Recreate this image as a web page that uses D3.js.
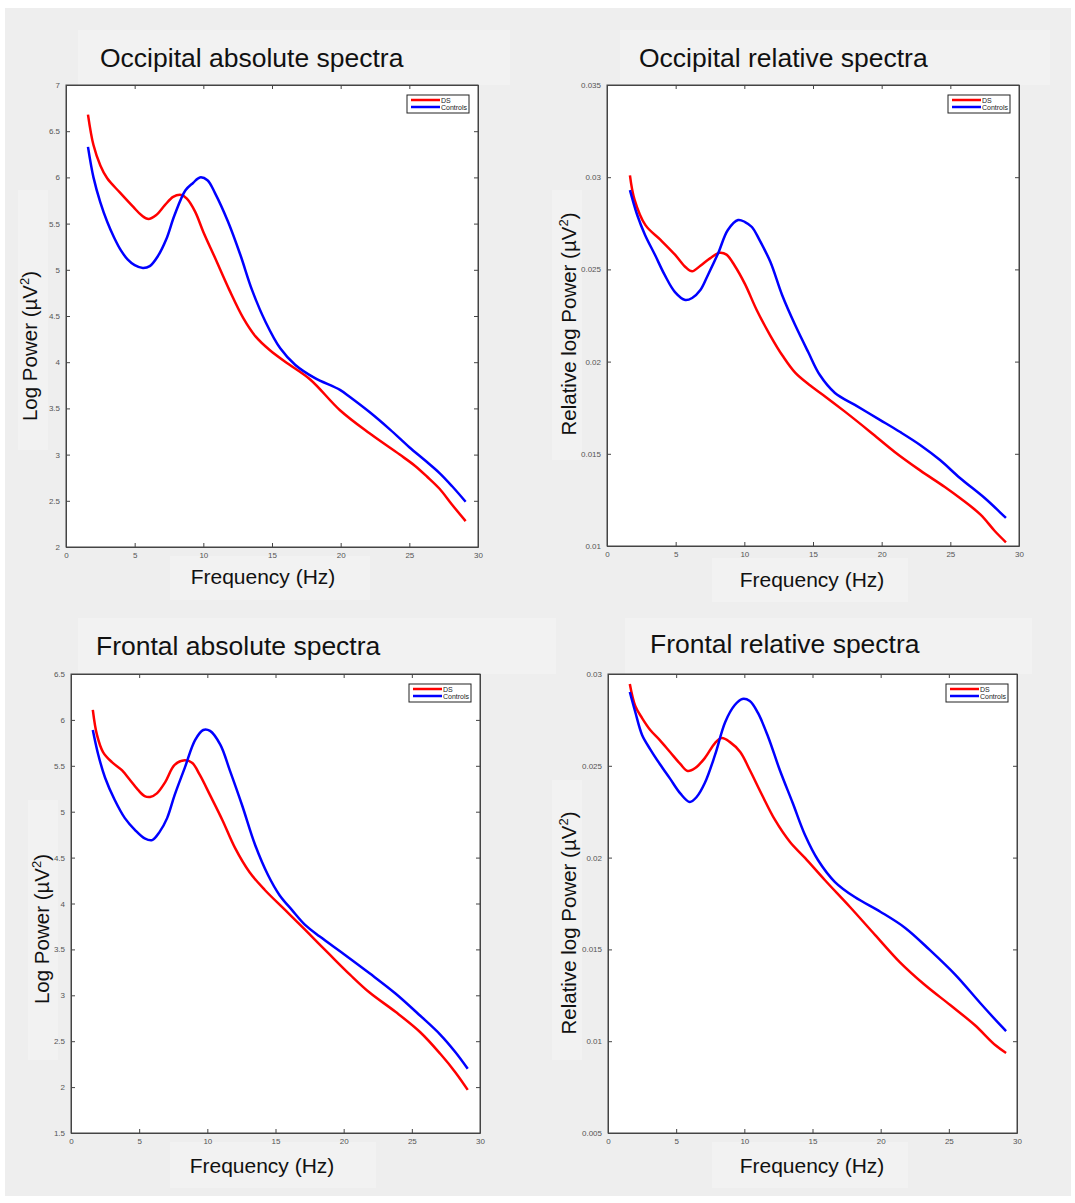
<!DOCTYPE html>
<html>
<head>
<meta charset="utf-8">
<script src="https://cdn.jsdelivr.net/npm/d3@7"></script>
<style>
  body { margin: 0; background: #fff; }
  svg { display: block; font-family: "Liberation Sans", Arial, sans-serif; }
</style>
</head>
<body>
<svg id="chart" width="1075" height="1203"></svg>
<script>
// ---- data ----
// occipital absolute
const freqOccAbsDS = [1.6, 2.0, 2.5, 3.0, 3.9, 4.9, 5.5, 6.0, 6.55, 7.2, 7.8, 8.4, 8.8, 9.4, 10.0, 10.85, 11.9, 12.9, 13.8, 14.85, 16.2, 17.8, 19.95, 22.1, 24.3, 25.4, 26.3, 27.2, 28.1, 29.1];
const powOccAbsDS  = [6.68, 6.35, 6.13, 5.99, 5.84, 5.68, 5.59, 5.55, 5.59, 5.70, 5.79, 5.81, 5.77, 5.63, 5.41, 5.13, 4.78, 4.48, 4.28, 4.13, 3.98, 3.81, 3.48, 3.23, 3.00, 2.88, 2.76, 2.63, 2.46, 2.28];
const freqOccAbsCtl = [1.6, 2.0, 2.5, 3.0, 3.5, 4.0, 4.5, 5.0, 5.6, 6.1, 6.7, 7.3, 7.9, 8.7, 9.25, 9.75, 10.3, 10.85, 11.8, 12.7, 13.55, 14.55, 15.6, 16.7, 18.1, 19.95, 20.7, 22.1, 23.6, 25.0, 26.2, 27.2, 28.1, 29.1];
const powOccAbsCtl  = [6.33, 6.00, 5.73, 5.52, 5.35, 5.21, 5.11, 5.05, 5.02, 5.04, 5.15, 5.33, 5.59, 5.86, 5.94, 6.00, 5.97, 5.83, 5.52, 5.16, 4.78, 4.43, 4.15, 3.97, 3.83, 3.70, 3.62, 3.46, 3.27, 3.08, 2.93, 2.80, 2.66, 2.49];

// occipital relative
const freqOccRelDS = [1.67, 2.0, 2.8, 3.9, 4.95, 5.75, 6.2, 6.8, 7.5, 8.2, 8.7, 9.3, 10.05, 10.9, 11.9, 12.8, 13.7, 14.8, 15.9, 17.3, 19.15, 20.95, 22.8, 24.6, 25.7, 27.2, 28.25, 29.05];
const powOccRelDS  = [0.0301, 0.0288, 0.0274, 0.0266, 0.0258, 0.0251, 0.0249, 0.0252, 0.0256, 0.0259, 0.0258, 0.0252, 0.0242, 0.0228, 0.0214, 0.0203, 0.0194, 0.0187, 0.0181, 0.0173, 0.0162, 0.0151, 0.0141, 0.0132, 0.0126, 0.0117, 0.0108, 0.0102];
const freqOccRelCtl = [1.67, 2.2, 2.77, 3.5, 4.2, 4.95, 5.7, 6.2, 6.8, 7.35, 8.1, 8.8, 9.55, 10.05, 10.55, 11.1, 11.9, 12.75, 13.7, 14.65, 15.5, 16.6, 18.05, 19.9, 21.35, 22.8, 24.25, 25.7, 27.5, 28.6, 29.05];
const powOccRelCtl  = [0.0293, 0.02795, 0.02687, 0.02578, 0.0247, 0.02377, 0.02334, 0.02345, 0.02388, 0.0247, 0.02589, 0.02714, 0.02768, 0.02757, 0.0273, 0.0266, 0.0254, 0.02361, 0.02198, 0.02052, 0.01927, 0.0183, 0.01765, 0.01683, 0.01618, 0.01548, 0.01466, 0.01369, 0.0126, 0.01184, 0.01152];

// frontal absolute
const freqFrAbsDS = [1.6, 1.9, 2.35, 3.0, 3.75, 4.3, 4.9, 5.4, 5.8, 6.3, 6.9, 7.6, 8.35, 8.9, 9.45, 10.2, 11.1, 12.05, 13.1, 14.2, 15.7, 17.2, 19.0, 20.5, 21.9, 23.8, 25.6, 27.1, 28.2, 29.1];
const powFrAbsDS  = [6.11, 5.84, 5.65, 5.54, 5.45, 5.35, 5.24, 5.17, 5.16, 5.20, 5.32, 5.51, 5.56, 5.53, 5.40, 5.18, 4.91, 4.60, 4.34, 4.15, 3.93, 3.71, 3.44, 3.22, 3.03, 2.82, 2.60, 2.36, 2.16, 1.97];
const freqFrAbsCtl = [1.6, 2.0, 2.5, 3.2, 3.95, 4.7, 5.4, 5.95, 6.5, 7.05, 7.6, 8.35, 9.1, 9.7, 10.2, 10.95, 11.65, 12.55, 13.5, 14.45, 15.3, 16.2, 17.15, 18.25, 20.1, 21.9, 23.8, 25.6, 27.1, 28.2, 29.1];
const powFrAbsCtl  = [5.89, 5.62, 5.37, 5.13, 4.93, 4.80, 4.71, 4.69, 4.78, 4.93, 5.18, 5.48, 5.78, 5.89, 5.88, 5.73, 5.45, 5.07, 4.64, 4.31, 4.09, 3.93, 3.77, 3.64, 3.44, 3.24, 3.02, 2.78, 2.57, 2.38, 2.20];

// frontal relative
const freqFrRelDS = [1.6, 2.0, 2.5, 3.1, 3.8, 4.55, 5.3, 5.85, 6.4, 7.1, 7.85, 8.35, 8.95, 9.7, 10.4, 11.3, 12.25, 13.35, 14.45, 15.9, 17.75, 19.6, 21.4, 23.25, 25.1, 26.9, 28.4, 29.2];
const powFrRelDS  = [0.02946, 0.02826, 0.0276, 0.02695, 0.0264, 0.02575, 0.0251, 0.02472, 0.02488, 0.02542, 0.02624, 0.02651, 0.02629, 0.02575, 0.02477, 0.02341, 0.02205, 0.02085, 0.01998, 0.01878, 0.01731, 0.01578, 0.01431, 0.01306, 0.01197, 0.01088, 0.00979, 0.00936];
const freqFrRelCtl = [1.6, 2.0, 2.5, 3.1, 3.8, 4.55, 5.3, 6.0, 6.5, 7.1, 7.85, 8.6, 9.3, 9.85, 10.4, 11.0, 11.75, 12.6, 13.55, 14.45, 15.4, 16.65, 18.1, 20.0, 21.8, 23.6, 25.5, 27.3, 28.75, 29.2];
const powFrRelCtl  = [0.02902, 0.02793, 0.02668, 0.0259, 0.0251, 0.0243, 0.0235, 0.02303, 0.0233, 0.02406, 0.02559, 0.02739, 0.02831, 0.02864, 0.02853, 0.02788, 0.02657, 0.02477, 0.02297, 0.02123, 0.01987, 0.01867, 0.01785, 0.01704, 0.01617, 0.01497, 0.0136, 0.01208, 0.0109, 0.01055];

// ticks
const xTicks = [0, 5, 10, 15, 20, 25, 30];
const yTicksOccAbs = [2, 2.5, 3, 3.5, 4, 4.5, 5, 5.5, 6, 6.5, 7];
const yTicksOccRel = [0.01, 0.015, 0.02, 0.025, 0.03, 0.035];
const yTicksFrAbs = [1.5, 2, 2.5, 3, 3.5, 4, 4.5, 5, 5.5, 6, 6.5];
const yTicksFrRel = [0.005, 0.01, 0.015, 0.02, 0.025, 0.03];

const titles = ["Occipital absolute spectra", "Occipital relative spectra", "Frontal absolute spectra", "Frontal relative spectra"];
const seriesNames = ["DS", "Controls"];
const seriesColors = ["#ff0000", "#0000ff"];

const zip = (f, v) => f.map((d, i) => [d, v[i]]);

// layout of the four panels (pixel boxes, label positions)
const panels = [
  { title: titles[0], box: [66, 478, 85, 547], yTicks: yTicksOccAbs, ylab: "Log Power (\u00b5V",
    series: [zip(freqOccAbsDS, powOccAbsDS), zip(freqOccAbsCtl, powOccAbsCtl)],
    titlePos: [100, 67], ylabPos: [37, 346], xlabPos: [263, 584],
    bgBoxes: [[78, 30, 432, 55], [170, 556, 200, 44], [18, 190, 30, 260]] },
  { title: titles[1], box: [607, 1019, 85, 546], yTicks: yTicksOccRel, ylab: "Relative log Power (\u00b5V",
    series: [zip(freqOccRelDS, powOccRelDS), zip(freqOccRelCtl, powOccRelCtl)],
    titlePos: [639, 67], ylabPos: [576, 324], xlabPos: [812, 587],
    bgBoxes: [[620, 30, 430, 55], [712, 558, 196, 44], [552, 190, 30, 270]] },
  { title: titles[2], box: [71, 480, 674, 1133], yTicks: yTicksFrAbs, ylab: "Log Power (\u00b5V",
    series: [zip(freqFrAbsDS, powFrAbsDS), zip(freqFrAbsCtl, powFrAbsCtl)],
    titlePos: [96, 655], ylabPos: [49, 929], xlabPos: [262, 1173],
    bgBoxes: [[78, 618, 478, 56], [170, 1142, 206, 46], [28, 800, 30, 260]] },
  { title: titles[3], box: [608, 1017, 674, 1133], yTicks: yTicksFrRel, ylab: "Relative log Power (\u00b5V",
    series: [zip(freqFrRelDS, powFrRelDS), zip(freqFrRelCtl, powFrRelCtl)],
    titlePos: [650, 653], ylabPos: [576, 923], xlabPos: [812, 1173],
    bgBoxes: [[625, 618, 407, 56], [712, 1142, 196, 46], [552, 780, 30, 280]] }
];

const svg = d3.select("#chart");

// figure background
svg.append("rect").attr("x", 5).attr("y", 8).attr("width", 1066).attr("height", 1188).attr("fill", "#eeeeee");

panels.forEach(p => {
  const [x0, x1, y0, y1] = p.box;
  const g = svg.append("g");

  // faint label backgrounds
  p.bgBoxes.forEach(b => {
    g.append("rect").attr("x", b[0]).attr("y", b[1]).attr("width", b[2]).attr("height", b[3]).attr("fill", "#f2f2f2");
  });

  const x = d3.scaleLinear().domain([0, 30]).range([x0, x1]);
  const y = d3.scaleLinear().domain(d3.extent(p.yTicks)).range([y1, y0]);

  // plot area
  g.append("rect").attr("x", x0).attr("y", y0).attr("width", x1 - x0).attr("height", y1 - y0)
    .attr("fill", "#fff");

  // ticks on all four sides, pointing inward
  const fmt = v => String(+v.toFixed(4));
  g.append("g").attr("transform", `translate(0,${y1})`)
    .call(d3.axisBottom(x).tickValues(xTicks).tickSizeInner(-4).tickSizeOuter(0).tickPadding(5).tickFormat(fmt));
  g.append("g").attr("transform", `translate(0,${y0})`)
    .call(d3.axisTop(x).tickValues(xTicks).tickSizeInner(-4).tickSizeOuter(0).tickFormat(""));
  g.append("g").attr("transform", `translate(${x0},0)`)
    .call(d3.axisLeft(y).tickValues(p.yTicks).tickSizeInner(-4).tickSizeOuter(0).tickPadding(6).tickFormat(fmt));
  g.append("g").attr("transform", `translate(${x1},0)`)
    .call(d3.axisRight(y).tickValues(p.yTicks).tickSizeInner(-4).tickSizeOuter(0).tickFormat(""));

  g.selectAll(".domain").attr("stroke", "#444");
  g.selectAll(".tick line").attr("stroke", "#444");
  g.selectAll(".tick text").attr("fill", "#555").style("font-size", "8px");

  // frame
  g.append("rect").attr("x", x0).attr("y", y0).attr("width", x1 - x0).attr("height", y1 - y0)
    .attr("fill", "none").attr("stroke", "#444").attr("stroke-width", 1);

  // curves
  const line = d3.line().x(d => x(d[0])).y(d => y(d[1])).curve(d3.curveCatmullRom);
  p.series.forEach((s, i) => {
    g.append("path").datum(s).attr("d", line)
      .attr("fill", "none").attr("stroke", seriesColors[i]).attr("stroke-width", 2.5)
      .attr("stroke-linejoin", "round");
  });

  // legend
  const lw = 62, lh = 18;
  const lg = g.append("g").attr("transform", `translate(${x1 - 9 - lw},${y0 + 10})`);
  lg.append("rect").attr("width", lw).attr("height", lh).attr("fill", "#fff").attr("stroke", "#222").attr("stroke-width", 1);
  seriesNames.forEach((name, i) => {
    const yy = 5 + i * 7;
    lg.append("line").attr("x1", 4).attr("x2", 33).attr("y1", yy).attr("y2", yy)
      .attr("stroke", seriesColors[i]).attr("stroke-width", 2.5);
    lg.append("text").attr("x", 34).attr("y", yy + 2.5).text(name)
      .style("font-size", "7px").attr("fill", "#222");
  });

  // title
  g.append("text").attr("x", p.titlePos[0]).attr("y", p.titlePos[1]).text(p.title)
    .style("font-size", "26.5px").attr("fill", "#111");

  // x label
  g.append("text").attr("x", p.xlabPos[0]).attr("y", p.xlabPos[1]).attr("text-anchor", "middle")
    .text("Frequency (Hz)").style("font-size", "21px").attr("fill", "#111");

  // y label with superscript 2
  const yl = g.append("text")
    .attr("transform", `translate(${p.ylabPos[0]},${p.ylabPos[1]}) rotate(-90)`)
    .attr("text-anchor", "middle").style("font-size", "20.5px").attr("fill", "#111");
  yl.append("tspan").text(p.ylab);
  yl.append("tspan").text("2").attr("dy", -8).style("font-size", "13px");
  yl.append("tspan").text(")").attr("dy", 8);
});
</script>
</body>
</html>
